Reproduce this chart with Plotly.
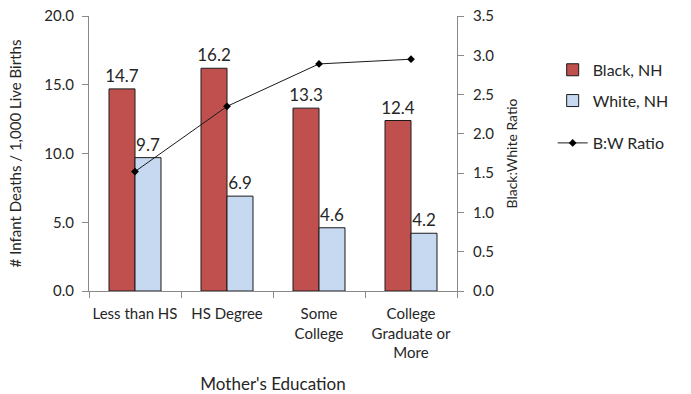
import plotly.graph_objects as go

categories = ["Less than HS", "HS Degree", "Some<br>College", "College<br>Graduate or<br>More"]
black_nh = [14.7, 16.2, 13.3, 12.4]
white_nh = [9.7, 6.9, 4.6, 4.2]
bw_ratio = [1.52, 2.35, 2.89, 2.95]
left_ticks = [0, 5, 10, 15, 20]
right_ticks = [0, 0.5, 1.0, 1.5, 2.0, 2.5, 3.0, 3.5]

FONT = "Lato, Calibri, Carlito, sans-serif"
TXT = "#262626"

fig = go.Figure()
fig.add_trace(go.Bar(
    x=categories, y=black_nh, name="Black, NH",
    marker=dict(color="#C0504D", line=dict(color="#1a1a1a", width=1)),
    text=[f"{v:.1f}" for v in black_nh], textposition="outside",
    constraintext="none",
    textfont=dict(size=17, color=TXT, family=FONT), cliponaxis=False,
    legendgroup="a",
))
fig.add_trace(go.Bar(
    x=categories, y=white_nh, name="White, NH",
    marker=dict(color="#C6D9F1", line=dict(color="#1a1a1a", width=1)),
    text=[f"{v:.1f}" for v in white_nh], textposition="outside",
    constraintext="none",
    textfont=dict(size=17, color=TXT, family=FONT), cliponaxis=False,
    legendgroup="b",
))
fig.add_trace(go.Scatter(
    x=categories, y=bw_ratio, name="B:W Ratio", yaxis="y2",
    mode="lines+markers",
    line=dict(color="#1a1a1a", width=1),
    marker=dict(symbol="diamond", size=6, color="#000000"),
    legend="legend2",
))

fig.update_layout(
    width=691, height=394,
    margin=dict(l=89, r=234, t=16, b=103),
    paper_bgcolor="white", plot_bgcolor="white",
    font=dict(family=FONT, size=15, color=TXT),
    barmode="group", bargap=0.435, bargroupgap=0,
    showlegend=True,
    legend=dict(x=1.26, y=0.866, xanchor="left", yanchor="top",
                font=dict(size=16, color=TXT), tracegroupgap=7,
                itemwidth=30, bgcolor="rgba(0,0,0,0)"),
    legend2=dict(x=1.26, y=0.6, xanchor="left", yanchor="top",
                 font=dict(size=16, color=TXT),
                 itemwidth=30, bgcolor="rgba(0,0,0,0)"),
    xaxis=dict(
        title=dict(text="Mother's Education", font=dict(size=17, color=TXT), standoff=18),
        showline=True, linecolor="#898989", linewidth=1,
        ticks="outside", tickson="boundaries", ticklen=6, tickcolor="#898989",
        tickfont=dict(size=15, color=TXT), ticklabelstandoff=9, tickangle=0,
        showgrid=False, automargin=False,
    ),
    yaxis=dict(
        title=dict(text="# Infant Deaths / 1,000 Live Births", font=dict(size=15, color=TXT), standoff=19),
        range=[0, 20], tickvals=left_ticks, ticktext=[f"{v:.1f}" for v in left_ticks],
        showline=True, linecolor="#898989", linewidth=1,
        ticks="outside", ticklen=6, tickcolor="#898989",
        tickfont=dict(size=15, color=TXT), ticklabelstandoff=5,
        showgrid=False, zeroline=False, automargin=False,
    ),
    yaxis2=dict(
        title=dict(text="Black:White Ratio", font=dict(size=14, color=TXT), standoff=13),
        range=[0, 3.5], tickvals=right_ticks, ticktext=[f"{v:.1f}" for v in right_ticks],
        overlaying="y", side="right",
        showline=True, linecolor="#898989", linewidth=1,
        ticks="outside", ticklen=6, tickcolor="#898989",
        tickfont=dict(size=15, color=TXT), ticklabelstandoff=6,
        showgrid=False, zeroline=False, automargin=False,
    ),
)

fig.write_html("out.html")
